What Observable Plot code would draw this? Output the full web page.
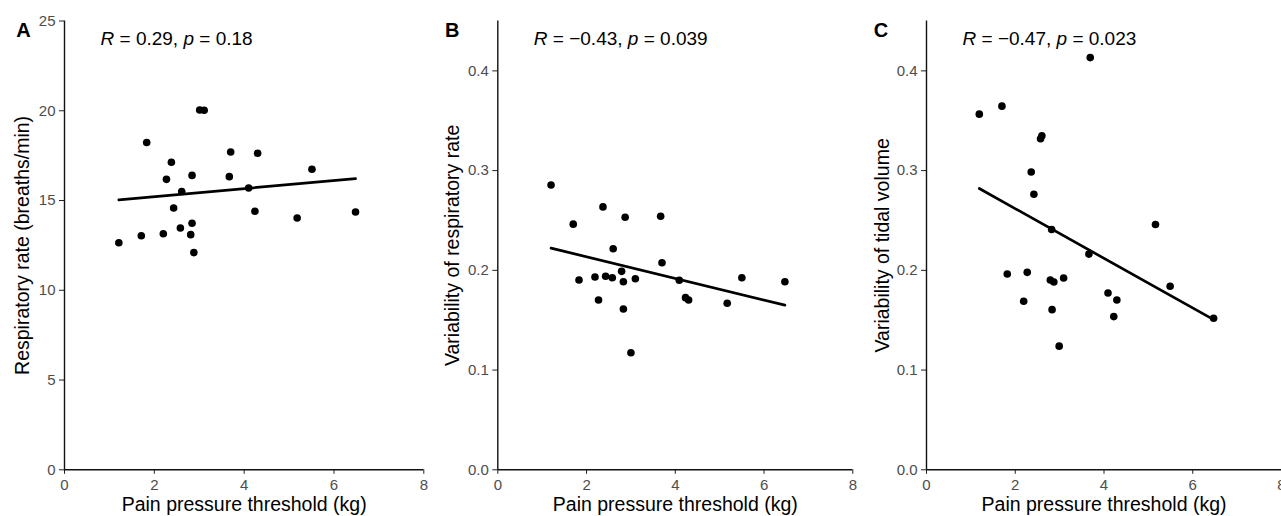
<!DOCTYPE html>
<html><head><meta charset="utf-8">
<script src="https://cdn.jsdelivr.net/npm/d3@7"></script>
<script src="https://cdn.jsdelivr.net/npm/@observablehq/plot@0.6"></script>
<style>
body{margin:0;background:#fff;}
#wrap{display:flex;width:1281px;height:516px;overflow:hidden;background:#fff;}
#wrap svg{overflow:visible;}
</style></head><body><div id="wrap"></div>
<script>
// Panel A: respiratory rate
const xA = [1.21,1.71,1.83,2.20,2.27,2.38,2.43,2.58,2.61,2.84,2.84,2.81,2.88,3.01,3.11,3.67,3.70,4.10,4.24,4.30,5.18,5.51,6.48];
const yA = [12.65,13.04,18.23,13.15,16.18,17.13,14.58,13.47,15.50,16.40,13.73,13.10,12.1,20.04,20.03,16.33,17.70,15.70,14.40,17.63,14.03,16.74,14.36];
// Panel B: variability of respiratory rate
const xB = [1.20,1.70,2.37,2.87,3.67,2.60,1.83,2.19,2.27,2.43,2.58,2.79,2.83,2.83,3.00,3.10,3.70,4.09,4.23,4.30,5.17,5.50,6.47];
const yB = [0.2856,0.2463,0.2636,0.2533,0.2543,0.2216,0.1903,0.1933,0.1703,0.1940,0.1926,0.199,0.1886,0.1613,0.1173,0.1916,0.2076,0.190,0.1726,0.1703,0.167,0.1926,0.1886];
// Panel C: variability of tidal volume
const xC = [1.19,1.70,3.69,2.60,2.57,2.36,2.42,2.82,5.16,3.66,1.82,2.27,2.19,2.79,2.87,2.83,3.09,2.99,4.09,4.29,4.22,5.49,6.47];
const yC = [0.3566,0.3646,0.4133,0.335,0.332,0.2986,0.2763,0.241,0.246,0.2163,0.1963,0.198,0.169,0.1903,0.1883,0.1606,0.1923,0.124,0.1773,0.1703,0.1536,0.184,0.152];

const xTicks = [0,2,4,6,8];
const yTicksA = [0,5,10,15,20,25];
const yTicksBC = [0,0.1,0.2,0.3,0.4];
const xTitle = "Pain pressure threshold (kg)";
const yTitles = ["Respiratory rate (breaths/min)","Variability of respiratory rate","Variability of tidal volume"];
const tags = ["A","B","C"];
const annots = [
  [["R",true],[" = 0.29, ",false],["p",true],[" = 0.18",false]],
  [["R",true],[" = \u22120.43, ",false],["p",true],[" = 0.039",false]],
  [["R",true],[" = \u22120.47, ",false],["p",true],[" = 0.023",false]]
];

const FONT = '"Liberation Sans", Arial, Helvetica, sans-serif';
const H = 516, MT = 20.5, MB = 46.7;

function panel({xs, ys, yDomain, yTicks, yFmt, yTitle, tag, annot, width, ml, mr, tagDx}) {
  const data = xs.map((x, i) => ({x, y: ys[i]}));
  const svg = Plot.plot({
    width, height: H,
    marginLeft: ml, marginRight: mr, marginTop: MT, marginBottom: MB,
    style: {fontFamily: FONT, fontSize: "15px", background: "white", overflow: "visible"},
    x: {domain: [0, 8]},
    y: {domain: yDomain},
    marks: [
      Plot.axisX({ticks: xTicks, tickSize: 4.5, tickPadding: 5, fontSize: 15, fill: "#4d4d4d", stroke: "#222", label: null}),
      Plot.axisY({ticks: yTicks, tickFormat: yFmt, tickSize: 5, tickPadding: 4, fontSize: 15, fill: "#4d4d4d", stroke: "#222", label: null}),
      Plot.ruleX([0], {stroke: "#111", strokeWidth: 1.4}),
      Plot.ruleY([0], {stroke: "#111", strokeWidth: 1.4}),
      Plot.linearRegressionY(data, {x: "x", y: "y", ci: 0, stroke: "black", strokeWidth: 2.7}),
      Plot.dot(data, {x: "x", y: "y", r: 3.8, fill: "black"}),
      Plot.text([xTitle], {frameAnchor: "bottom", dy: 35, lineAnchor: "middle", textAnchor: "middle", fontSize: 19.5, fill: "black"}),
      Plot.text([yTitle], {frameAnchor: "left", dx: 22 - ml, rotate: -90, lineAnchor: "middle", textAnchor: "middle", fontSize: 19.5, fill: "black"}),
      Plot.text([tag], {frameAnchor: "top-left", dx: tagDx, dy: 9.5, lineAnchor: "middle", textAnchor: "middle", fontSize: 20, fontWeight: "bold", fill: "black"}),
      Plot.text(["annot"], {frameAnchor: "top-left", dx: 36, dy: 17.5, lineAnchor: "middle", textAnchor: "start", fontSize: 19, fill: "black", className: "annot"})
    ]
  });
  // enforce tick label font size / colour
  d3.select(svg).selectAll("g").filter(function () {
    const a = this.getAttribute("aria-label") || "";
    return a.includes("tick label");
  }).attr("font-size", 15).style("font-size", "15px").style("fill", "#4d4d4d")
    .selectAll("text").style("font-size", "15px");
  const t = d3.select(svg).select("g.annot text");
  t.text(null);
  annot.forEach(([s, it]) => {
    const sp = t.append("tspan").text(s);
    if (it) sp.attr("font-style", "italic");
  });
  return svg;
}

const wrap = document.getElementById("wrap");
const fmtInt = d3.format("d"), fmt1 = d3.format(".1f");
wrap.append(panel({xs: xA, ys: yA, yDomain: [0, 25], yTicks: yTicksA, yFmt: fmtInt, yTitle: yTitles[0], tag: tags[0], annot: annots[0], width: 430, ml: 64, mr: 6.7, tagDx: -41}));
wrap.append(panel({xs: xB, ys: yB, yDomain: [0, 0.45], yTicks: yTicksBC, yFmt: fmt1, yTitle: yTitles[1], tag: tags[1], annot: annots[1], width: 430, ml: 67.3, mr: 7.7, tagDx: -45.5}));
wrap.append(panel({xs: xC, ys: yC, yDomain: [0, 0.45], yTicks: yTicksBC, yFmt: fmt1, yTitle: yTitles[2], tag: tags[2], annot: annots[2], width: 421, ml: 66, mr: 0, tagDx: -45.5}));
</script>
</body></html>
